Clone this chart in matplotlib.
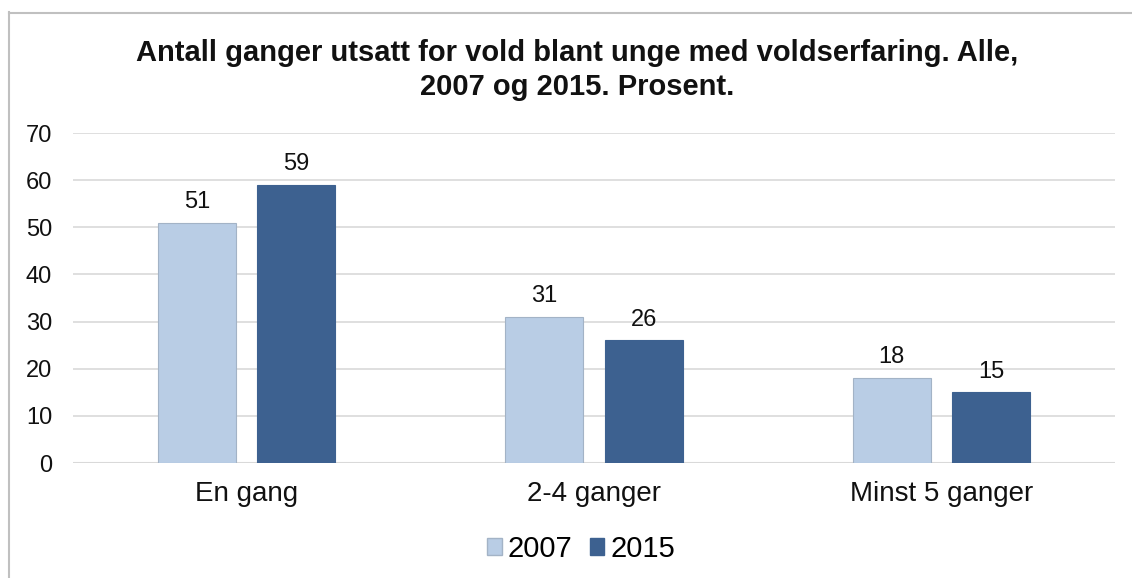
import matplotlib
matplotlib.use("Agg")
import matplotlib.pyplot as plt
import numpy as np
from matplotlib.lines import Line2D

categories = ["En gang", "2-4 ganger", "Minst 5 ganger"]
series_names = ["2007", "2015"]
values_2007 = [51, 31, 18]
values_2015 = [59, 26, 15]
yticks = [0, 10, 20, 30, 40, 50, 60, 70]
title = "Antall ganger utsatt for vold blant unge med voldserfaring. Alle,\n2007 og 2015. Prosent."

plt.rcParams['font.family'] = ['Liberation Sans', 'DejaVu Sans']

fig = plt.figure(figsize=(11.32, 5.78), dpi=100)
ax = fig.add_axes([73/1132, 1-463/578, (1115-73)/1132, (463-133)/578])

x = np.arange(len(categories))
w = 0.225
off = 0.143
c1, c2 = "#b9cde5", "#3d6190"
b1 = ax.bar(x - off, values_2007, w, color=c1, edgecolor="#a3b3c6", linewidth=0.8, zorder=3)
b2 = ax.bar(x + off, values_2015, w, color=c2, edgecolor="#3d6190", linewidth=0.8, zorder=3)
for bars, vals in ((b1, values_2007), (b2, values_2015)):
    for r, v in zip(bars, vals):
        ax.annotate(str(v), (r.get_x() + r.get_width()/2, v), xytext=(0, 7),
                    textcoords="offset points", ha="center", va="bottom", fontsize=17, color="#111111")

ax.set_xlim(-0.5, 2.5)
ax.set_ylim(0, 70)
ax.set_yticks(yticks)
ax.set_yticklabels([str(t) for t in yticks], fontsize=17)
ax.set_xticks(x)
ax.set_xticklabels(categories, fontsize=20)
ax.tick_params(axis='both', length=0, colors="#111111")
ax.tick_params(axis='y', pad=15)
ax.tick_params(axis='x', pad=13)
ax.grid(axis='y', color="#d9d9d9", linewidth=1.2, zorder=0)
for s in ax.spines.values():
    s.set_visible(False)
ax.axhline(0, color="#d9d9d9", linewidth=1.5, zorder=2)

fig.text(577/1132, 1-70/578, title, ha="center", va="center", fontsize=21,
         fontweight="bold", color="#111111", linespacing=1.28)

handles = [plt.Rectangle((0, 0), 1, 1, facecolor=c1, edgecolor="#a3b3c6"),
           plt.Rectangle((0, 0), 1, 1, facecolor=c2, edgecolor=c2)]
fig.legend(handles, series_names, loc="center", bbox_to_anchor=(581/1132, 1-549/578),
           ncol=2, frameon=False, fontsize=21, handlelength=0.5, handleheight=0.5,
           handletextpad=0.2, columnspacing=0.6)

fig.add_artist(Line2D([8.5/1132, 8.5/1132], [0, 1-12/578], transform=fig.transFigure, color="#c0c0c0", linewidth=1.5))
fig.add_artist(Line2D([8.5/1132, 1], [1-12.5/578, 1-12.5/578], transform=fig.transFigure, color="#c0c0c0", linewidth=1.5))

fig.savefig("out.png", dpi=100, facecolor="white")
